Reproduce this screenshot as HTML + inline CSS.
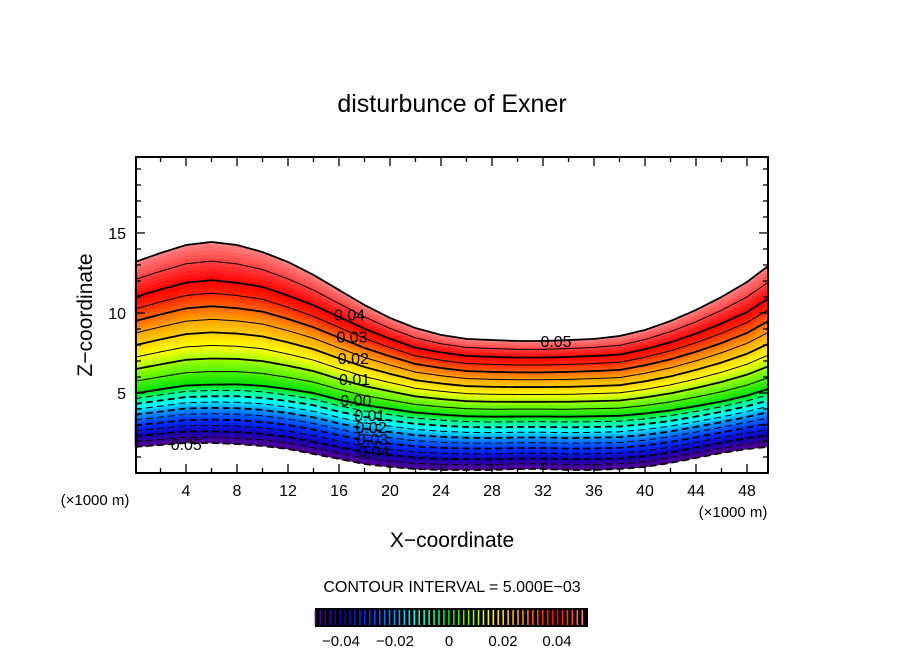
<!DOCTYPE html>
<html><head><meta charset="utf-8"><style>
body{margin:0;background:#fff;}
svg{display:block;font-family:"Liberation Sans",sans-serif;}
</style></head><body>
<svg id="c" width="904" height="654" viewBox="0 0 904 654">
<text x="452" y="112" text-anchor="middle" font-size="25">disturbunce of Exner</text>
<g id="plot"></g>
<g id="axes"></g>
<text transform="translate(92,315) rotate(-90)" text-anchor="middle" font-size="21">Z−coordinate</text>
<text x="452" y="547" text-anchor="middle" font-size="21">X−coordinate</text>
<text x="95" y="505" text-anchor="middle" font-size="15">(×1000 m)</text>
<text x="733" y="517" text-anchor="middle" font-size="15">(×1000 m)</text>
<text x="452" y="592" text-anchor="middle" font-size="16">CONTOUR INTERVAL = 5.000E−03</text>
<g id="cbar"></g>
</svg>
<script>
const xs=[0,2,4,6,8,10,12,14,16,18,20,22,24,26,28,30,32,34,36,38,40,42,44,46,48,49.6];
const bottomZ=[1.63,1.75,1.88,1.88,1.81,1.69,1.5,1.19,0.88,0.56,0.38,0.25,0.19,0.19,0.19,0.25,0.25,0.19,0.19,0.25,0.38,0.63,0.94,1.25,1.5,1.63];
const topZ=[13.19,13.75,14.25,14.44,14.25,13.81,13.19,12.38,11.44,10.5,9.69,9.06,8.63,8.38,8.31,8.25,8.25,8.31,8.38,8.56,8.94,9.5,10.19,11.0,11.94,12.9];
const zeroFrac=[0.29,0.29,0.29,0.29,0.3,0.31,0.32,0.34,0.35,0.37,0.39,0.4,0.41,0.41,0.41,0.41,0.41,0.41,0.41,0.4,0.39,0.37,0.35,0.33,0.32,0.32];
const frac04=[0.81,0.81,0.81,0.81,0.81,0.82,0.82,0.83,0.84,0.85,0.86,0.86,0.87,0.87,0.87,0.87,0.87,0.87,0.87,0.86,0.86,0.85,0.84,0.83,0.82,0.82];
const levels=[];for(let i=0;i<=20;i++)levels.push(+(-0.05+i*0.005).toFixed(3));
const xTicks=[4,8,12,16,20,24,28,32,36,40,44,48];
const yTicks=[5,10,15];
const cbTicks=[-0.04,-0.02,0,0.02,0.04];
const cbLabels=["−0.04","−0.02","0","0.02","0.04"];
const lineLabels=[[15.6,0.04,"0.04"],[15.8,0.03,"0.03"],[15.9,0.02,"0.02"],[16,0.01,"0.01"],[16.1,0,"0.00"],[17.2,-0.01,"0.01"],[17.3,-0.02,"0.02"],[17.4,-0.03,"0.03"],[17.5,-0.04,"0.04"],[2.8,-0.05,"0.05"],[31.8,0.05,"0.05"]];

const NS="http://www.w3.org/2000/svg";
const X0=135,X1=768,Y0=473,Y1=157,XS=12.75,YS=16;
const sx=x=>X0+x*XS, sy=z=>Y0-z*YS;
function interp(arr,x){for(let i=0;i<xs.length-1;i++){if(x<=xs[i+1]){const t=(x-xs[i])/(xs[i+1]-xs[i]);return arr[i]+t*(arr[i+1]-arr[i]);}}return arr[arr.length-1];}
function frac(x,v){const f0=interp(zeroFrac,x),f4=interp(frac04,x);
 if(v<=0)return f0*(v+0.05)/0.05; if(v<=0.04)return f0+(f4-f0)*v/0.04; return f4+(1-f4)*(v-0.04)/0.01;}
function zAt(x,v){const b=interp(bottomZ,x),t=interp(topZ,x);return b+(t-b)*frac(x,v);}
const stops=[[-0.05,[90,0,144]],[-0.04,[20,0,180]],[-0.03,[0,50,255]],[-0.02,[0,150,255]],[-0.013,[0,255,255]],[-0.005,[0,255,140]],[0,[0,225,0]],[0.01,[160,255,0]],[0.015,[255,255,0]],[0.025,[255,165,0]],[0.035,[255,40,0]],[0.04,[255,0,0]],[0.05,[255,130,130]]];
function col(v){for(let i=0;i<stops.length-1;i++){if(v<=stops[i+1][0]){const t=(v-stops[i][0])/(stops[i+1][0]-stops[i][0]);const a=stops[i][1],b=stops[i+1][1];return`rgb(${a.map((c,k)=>Math.round(c+t*(b[k]-c))).join(",")})`;}}return"rgb(255,130,130)";}
const xsamp=[];for(let x=0;x<49.6;x+=0.2)xsamp.push(x);xsamp.push(49.6);
function pts(v){return xsamp.map(x=>[sx(x),sy(zAt(x,v))]);}
const plot=document.getElementById('plot');
for(let i=0;i<100;i++){const v0=-0.05+i*0.001,v1=v0+0.001;
 const p=pts(v0).concat(pts(v1).reverse());
 const el=document.createElementNS(NS,'polygon');
 el.setAttribute('points',p.map(a=>a.join(',')).join(' '));
 el.setAttribute('fill',col(v0+0.0005));el.setAttribute('stroke',col(v0+0.0005));el.setAttribute('stroke-width','0.6');
 
 
 plot.appendChild(el);}
levels.forEach((v,i)=>{const el=document.createElementNS(NS,'polyline');
 el.setAttribute('points',pts(v).map(a=>a.join(',')).join(' '));
 el.setAttribute('fill','none');el.setAttribute('stroke','#000');
 el.setAttribute('stroke-width',(i%2===0)?'1.8':'1');
 if(v<0)el.setAttribute('stroke-dasharray','7,4');
 
 
 plot.appendChild(el);});
lineLabels.forEach(l=>{const t=document.createElementNS(NS,'text');
 t.setAttribute('x',sx(l[0]));t.setAttribute('y',sy(zAt(l[0],l[1]))+6);
 t.setAttribute('font-size','16');t.textContent=l[2];
 
 
 plot.appendChild(t);});
const ax=document.getElementById('axes');
function ln(x1,y1,x2,y2,w,name){const e=document.createElementNS(NS,'line');e.setAttribute('x1',x1);e.setAttribute('y1',y1);e.setAttribute('x2',x2);e.setAttribute('y2',y2);e.setAttribute('stroke','#000');e.setAttribute('stroke-width',w);
 
 
 ax.appendChild(e);}
const fr=document.createElementNS(NS,'rect');fr.setAttribute('x',136);fr.setAttribute('y',Y1);fr.setAttribute('width',X1-136);fr.setAttribute('height',Y0-Y1);fr.setAttribute('fill','none');fr.setAttribute('stroke','#000');fr.setAttribute('stroke-width','2');


ax.appendChild(fr);
for(let x=2;x<=48;x+=2){const L=(x%4===0)?9:5;ln(sx(x),Y0,sx(x),Y0-L,1.3,'x-tick');ln(sx(x),Y1,sx(x),Y1+L,1.3,'x-tick');}
for(let z=1;z<=19;z++){const L=(z%5===0)?9:5;ln(136,sy(z),136+L,sy(z),1.3,'y-tick');ln(X1,sy(z),X1-L,sy(z),1.3,'y-tick');}
xTicks.forEach(x=>{const t=document.createElementNS(NS,'text');t.setAttribute('x',sx(x));t.setAttribute('y',Y0+23);t.setAttribute('text-anchor','middle');t.setAttribute('font-size','16');t.textContent=x;
 
 
 ax.appendChild(t);});
yTicks.forEach(z=>{const t=document.createElementNS(NS,'text');t.setAttribute('x',126);t.setAttribute('y',sy(z)+6);t.setAttribute('text-anchor','end');t.setAttribute('font-size','16');t.textContent=z;
 
 
 ax.appendChild(t);});
const cb=document.getElementById('cbar');
const cbx=v=>449+v*2700;
const bg=document.createElementNS(NS,'rect');bg.setAttribute('x',315);bg.setAttribute('y',608);bg.setAttribute('width',273);bg.setAttribute('height',19);bg.setAttribute('fill','#000');


cb.appendChild(bg);
for(let i=0;i<=54;i++){const v=-0.0495+i*0.00183;const e=document.createElementNS(NS,'rect');e.setAttribute('x',cbx(v)-0.7);e.setAttribute('y',610);e.setAttribute('width',1.6);e.setAttribute('height',15);e.setAttribute('fill',col(v));
 
 
 cb.appendChild(e);}
cbTicks.forEach((v,i)=>{const t=document.createElementNS(NS,'text');t.setAttribute('x',cbx(v));t.setAttribute('y',646);t.setAttribute('text-anchor','middle');t.setAttribute('font-size','15');t.textContent=cbLabels[i];
 
 
 cb.appendChild(t);});
</script>
</body></html>
